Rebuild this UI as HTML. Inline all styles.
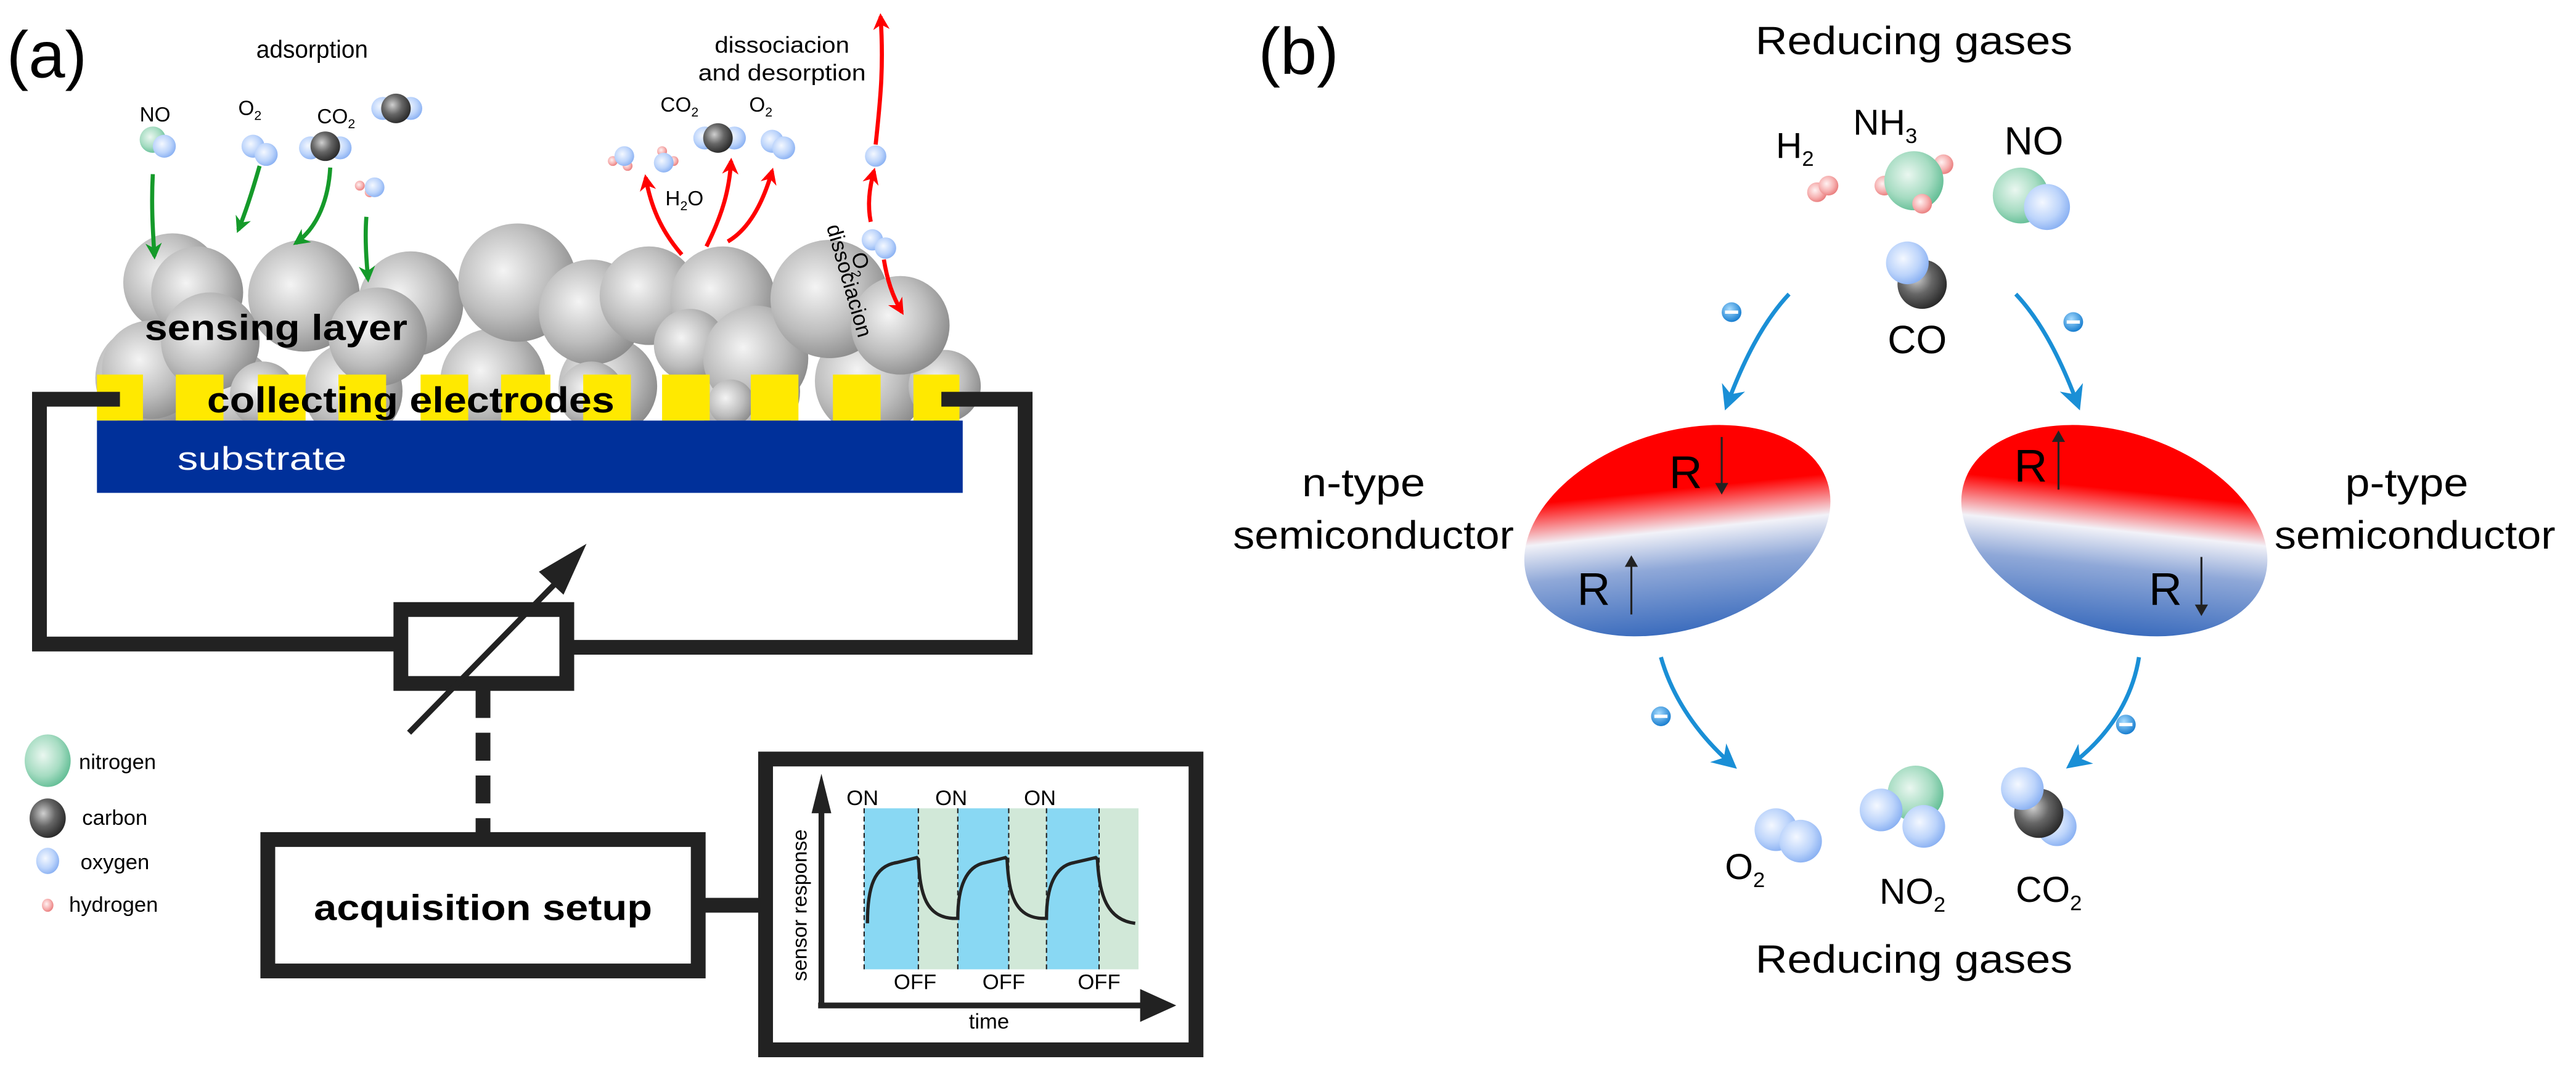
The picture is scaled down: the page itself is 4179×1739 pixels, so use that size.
<!DOCTYPE html>
<html><head><meta charset="utf-8"><style>
html,body{margin:0;padding:0;background:#fff;}
svg{display:block;}
text{font-family:"Liberation Sans",sans-serif;}
</style></head><body>
<svg width="4179" height="1739" viewBox="0 0 1568 652.5" xmlns="http://www.w3.org/2000/svg">
<defs>
<radialGradient id="g" cx="38%" cy="40%" r="65%"><stop offset="0" stop-color="#f4f4f4"/><stop offset="0.6" stop-color="#bdbdbd"/><stop offset="1" stop-color="#8c8c8c"/></radialGradient>
<radialGradient id="c" cx="38%" cy="38%" r="65%"><stop offset="0" stop-color="#d0d0d0"/><stop offset="0.5" stop-color="#666"/><stop offset="1" stop-color="#2a2a2a"/></radialGradient>
<radialGradient id="o" cx="40%" cy="40%" r="65%"><stop offset="0" stop-color="#f4f8ff"/><stop offset="0.6" stop-color="#bcd4fb"/><stop offset="1" stop-color="#86aef2"/></radialGradient>
<radialGradient id="n" cx="40%" cy="40%" r="65%"><stop offset="0" stop-color="#eaf7f0"/><stop offset="0.6" stop-color="#a6dcc2"/><stop offset="1" stop-color="#5fbc93"/></radialGradient>
<radialGradient id="h" cx="40%" cy="40%" r="65%"><stop offset="0" stop-color="#fff2f2"/><stop offset="0.6" stop-color="#f6b0b0"/><stop offset="1" stop-color="#e87878"/></radialGradient>
<radialGradient id="e" cx="40%" cy="35%" r="65%"><stop offset="0" stop-color="#a8dcff"/><stop offset="1" stop-color="#1a7fd0"/></radialGradient>
<linearGradient id="eL" gradientUnits="userSpaceOnUse" x1="1035" y1="262" x2="1009" y2="384"><stop offset="0" stop-color="#ff0000"/><stop offset="0.3" stop-color="#ff0000"/><stop offset="0.5" stop-color="#f2f2f8"/><stop offset="0.68" stop-color="#8fa8d8"/><stop offset="1" stop-color="#3b6cbd"/></linearGradient>
<linearGradient id="eR" gradientUnits="userSpaceOnUse" x1="1273" y1="262" x2="1299" y2="384"><stop offset="0" stop-color="#ff0000"/><stop offset="0.3" stop-color="#ff0000"/><stop offset="0.5" stop-color="#f2f2f8"/><stop offset="0.68" stop-color="#8fa8d8"/><stop offset="1" stop-color="#3b6cbd"/></linearGradient>
<marker id="ag" viewBox="0 0 10 10" refX="8" refY="5" markerWidth="4" markerHeight="5" orient="auto"><path d="M0,0 L10,5 L0,10 L3,5 z" fill="#159a2a"/></marker>
<marker id="ar" viewBox="0 0 10 10" refX="8" refY="5" markerWidth="4" markerHeight="5" orient="auto"><path d="M0,0 L10,5 L0,10 L3,5 z" fill="#f00"/></marker>
<marker id="ab" viewBox="0 0 10 10" refX="8" refY="5" markerWidth="6" markerHeight="6" orient="auto"><path d="M0,0 L10,5 L0,10 L3,5 z" fill="#1a8fd6"/></marker>
</defs>

<!-- PANEL A -->
<text x="4" y="47" font-size="40">(a)</text>
<text x="190" y="35" font-size="15" text-anchor="middle" textLength="68" lengthAdjust="spacingAndGlyphs">adsorption</text>
<text x="476" y="32" font-size="14" text-anchor="middle" textLength="82" lengthAdjust="spacingAndGlyphs">dissociacion</text>
<text x="476" y="49" font-size="14" text-anchor="middle" textLength="102" lengthAdjust="spacingAndGlyphs">and desorption</text>

<!-- spheres -->
<g fill="url(#g)">
<circle cx="90" cy="230" r="32"/><circle cx="140" cy="240" r="28"/><circle cx="215" cy="238" r="30"/><circle cx="300" cy="232" r="32"/><circle cx="370" cy="235" r="30"/><circle cx="455" cy="238" r="32"/><circle cx="530" cy="232" r="34"/><circle cx="575" cy="235" r="22"/>
<circle cx="105" cy="172" r="30"/><circle cx="120" cy="178" r="28"/><circle cx="185" cy="180" r="34"/><circle cx="250" cy="185" r="32"/><circle cx="315" cy="172" r="36"/><circle cx="360" cy="190" r="32"/><circle cx="395" cy="180" r="30"/><circle cx="440" cy="182" r="32"/><circle cx="420" cy="210" r="22"/><circle cx="460" cy="218" r="32"/><circle cx="505" cy="182" r="36"/><circle cx="548" cy="198" r="30"/>
<circle cx="92" cy="225" r="30"/><circle cx="128" cy="208" r="30"/><circle cx="160" cy="240" r="20"/><circle cx="230" cy="205" r="30"/><circle cx="360" cy="240" r="20"/><circle cx="445" cy="245" r="14"/>
</g>
<text x="88" y="207" font-size="22" font-weight="bold" textLength="160" lengthAdjust="spacingAndGlyphs">sensing layer</text>
<!-- electrodes -->
<g fill="#ffe900">
<rect x="59" y="228" width="28" height="28"/><rect x="107" y="228" width="29" height="28"/><rect x="157" y="228" width="29" height="28"/><rect x="206" y="228" width="29" height="28"/><rect x="256" y="228" width="29" height="28"/><rect x="305" y="228" width="30" height="28"/><rect x="355" y="228" width="29" height="28"/><rect x="403" y="228" width="29" height="28"/><rect x="457" y="228" width="29" height="28"/><rect x="507" y="228" width="29" height="28"/><rect x="556" y="228" width="28" height="28"/>
</g>
<text x="126" y="251" font-size="22" font-weight="bold" textLength="248" lengthAdjust="spacingAndGlyphs">collecting electrodes</text>
<rect x="59" y="256" width="527" height="44" fill="#00309a"/>
<text x="108" y="286" font-size="20" fill="#fff" textLength="103" lengthAdjust="spacingAndGlyphs">substrate</text>

<!-- circuit -->
<g fill="none" stroke="#222" stroke-width="9">
<polyline points="73,243 24,243 24,392 244,392"/>
<polyline points="573,243 624,243 624,394 345,394"/>
<rect x="244" y="371" width="101" height="45"/>
<line x1="294" y1="420" x2="294" y2="507" stroke-dasharray="17,9"/>
<rect x="163" y="511" width="262" height="80"/>
<line x1="429" y1="551" x2="462" y2="551"/>
<rect x="466" y="462" width="262" height="177"/>
</g>
<line x1="249" y1="446" x2="345" y2="348" stroke="#222" stroke-width="3.5"/>
<path d="M357,331 L328,348 L343,362 Z" fill="#222"/>
<text x="294" y="560" font-size="22" font-weight="bold" text-anchor="middle" textLength="206" lengthAdjust="spacingAndGlyphs">acquisition setup</text>

<!-- graph -->
<rect x="526" y="492" width="33" height="98" fill="#89d8f3"/><rect x="559" y="492" width="24" height="98" fill="#d1e8d8"/>
<rect x="583" y="492" width="31" height="98" fill="#89d8f3"/><rect x="614" y="492" width="23" height="98" fill="#d1e8d8"/>
<rect x="637" y="492" width="32" height="98" fill="#89d8f3"/><rect x="669" y="492" width="24" height="98" fill="#d1e8d8"/>
<g stroke="#222" stroke-width="0.8" stroke-dasharray="3,2">
<line x1="526" y1="492" x2="526" y2="590"/><line x1="559" y1="492" x2="559" y2="590"/><line x1="583" y1="492" x2="583" y2="590"/><line x1="614" y1="492" x2="614" y2="590"/><line x1="637" y1="492" x2="637" y2="590"/><line x1="669" y1="492" x2="669" y2="590"/>
</g>
<path d="M528,562 C528,540 532,527 546,525 L558,522 L559,523 C560,545 564,558 580,559 L583,559 C583,540 588,527 600,525 L612,522 L613,523 C614,545 618,558 634,559 L637,559 C637,540 642,527 654,525 L667,522 L668,523 C669,545 674,560 691,562" fill="none" stroke="#222" stroke-width="2"/>
<line x1="500" y1="612" x2="500" y2="490" stroke="#222" stroke-width="3.5"/>
<path d="M500,471 L494,495 L506,495 Z" fill="#222"/>
<line x1="498" y1="612" x2="700" y2="612" stroke="#222" stroke-width="3.5"/>
<path d="M716,612 L694,602 L694,622 Z" fill="#222"/>
<g font-size="13" text-anchor="middle"><text x="525" y="490">ON</text><text x="579" y="490">ON</text><text x="633" y="490">ON</text>
<text x="557" y="602">OFF</text><text x="611" y="602">OFF</text><text x="669" y="602">OFF</text>
<text x="602" y="626">time</text>
<text transform="translate(491,551) rotate(-90)" font-size="12.5">sensor response</text></g>

<!-- legend -->
<ellipse cx="29" cy="463" rx="14" ry="16" fill="url(#n)"/><text x="48" y="468" font-size="13">nitrogen</text>
<ellipse cx="29" cy="498" rx="11" ry="12" fill="url(#c)"/><text x="50" y="502" font-size="13">carbon</text>
<ellipse cx="29" cy="524" rx="7" ry="8" fill="url(#o)"/><text x="49" y="529" font-size="13">oxygen</text>
<ellipse cx="29" cy="551" rx="3.5" ry="4" fill="url(#h)"/><text x="42" y="555" font-size="13">hydrogen</text>

<!-- molecules top a -->
<text x="85" y="74" font-size="12.5">NO</text>
<circle cx="93" cy="85" r="8" fill="url(#n)"/><circle cx="100" cy="89" r="7" fill="url(#o)"/>
<text x="145" y="70" font-size="12.5">O<tspan font-size="8" dy="3">2</tspan></text>
<circle cx="154" cy="89" r="7" fill="url(#o)"/><circle cx="162" cy="94" r="7" fill="url(#o)"/>
<text x="193" y="75" font-size="12.5">CO<tspan font-size="8" dy="3">2</tspan></text>
<circle cx="233" cy="66" r="7" fill="url(#o)"/><circle cx="250" cy="66" r="7" fill="url(#o)"/><circle cx="241" cy="66" r="9" fill="url(#c)"/>
<circle cx="189" cy="90" r="7" fill="url(#o)"/><circle cx="207" cy="90" r="7" fill="url(#o)"/><circle cx="198" cy="89" r="9" fill="url(#c)"/>
<circle cx="219" cy="113" r="3" fill="url(#h)"/><circle cx="225" cy="117" r="3" fill="url(#h)"/><circle cx="228" cy="114" r="6" fill="url(#o)"/>
<!-- green arrows -->
<g fill="none" stroke="#159a2a" stroke-width="2.5" marker-end="url(#ag)">
<path d="M93,106 C92,125 93,140 94,156"/>
<path d="M158,101 C154,115 150,128 145,140"/>
<path d="M201,102 C200,120 194,138 180,148"/>
<path d="M223,132 C222,145 223,158 224,170"/>
</g>
<!-- right desorption -->
<text x="405" y="125" font-size="12.5">H<tspan font-size="8" dy="3">2</tspan><tspan dy="-3">O</tspan></text>
<text x="402" y="68" font-size="12.5">CO<tspan font-size="8" dy="3">2</tspan></text>
<text x="456" y="68" font-size="12.5">O<tspan font-size="8" dy="3">2</tspan></text>
<circle cx="373" cy="98" r="3" fill="url(#h)"/><circle cx="382" cy="101" r="3" fill="url(#h)"/><circle cx="380" cy="95" r="6" fill="url(#o)"/>
<circle cx="403" cy="92" r="3" fill="url(#h)"/><circle cx="410" cy="98" r="3" fill="url(#h)"/><circle cx="404" cy="99" r="6" fill="url(#o)"/>
<circle cx="429" cy="84" r="7" fill="url(#o)"/><circle cx="447" cy="84" r="7" fill="url(#o)"/><circle cx="437" cy="84" r="9" fill="url(#c)"/>
<circle cx="470" cy="86" r="7" fill="url(#o)"/><circle cx="477" cy="90" r="7" fill="url(#o)"/>
<circle cx="533" cy="95" r="6.5" fill="url(#o)"/>
<g fill="none" stroke="#f00" stroke-width="2.5" marker-end="url(#ar)">
<path d="M415,155 C402,140 396,125 393,108"/>
<path d="M430,150 C440,130 444,115 445,98"/>
<path d="M443,147 C455,140 464,125 470,104"/>
<path d="M533,88 C536,60 538,40 536,10"/>
<path d="M530,135 C528,125 529,115 532,104"/>
<path d="M538,158 C540,170 543,180 549,190"/>
</g>
<circle cx="531" cy="146" r="6.5" fill="url(#o)"/><circle cx="539" cy="151" r="6.5" fill="url(#o)"/>
<text transform="translate(503,138) rotate(74)" font-size="13">dissociacion</text>
<text transform="translate(518,155) rotate(74)" font-size="13">O<tspan font-size="8" dy="3">2</tspan></text>

<!-- PANEL B -->
<text x="766" y="45" font-size="40">(b)</text>
<g font-size="24" text-anchor="middle">
<text x="1165" y="33" textLength="193" lengthAdjust="spacingAndGlyphs">Reducing gases</text>
<text x="1165" y="592" textLength="193" lengthAdjust="spacingAndGlyphs">Reducing gases</text>
<text x="830" y="302" textLength="75" lengthAdjust="spacingAndGlyphs">n-type</text><text x="836" y="334" textLength="171" lengthAdjust="spacingAndGlyphs">semiconductor</text>
<text x="1465" y="302" textLength="75" lengthAdjust="spacingAndGlyphs">p-type</text><text x="1470" y="334" textLength="171" lengthAdjust="spacingAndGlyphs">semiconductor</text>
<text x="1167" y="215">CO</text>
<text x="1238" y="94">NO</text>
</g>
<text x="1081" y="96" font-size="22">H<tspan font-size="13" dy="5">2</tspan></text>
<text x="1128" y="82" font-size="22">NH<tspan font-size="13" dy="5">3</tspan></text>
<text x="1050" y="535" font-size="22">O<tspan font-size="13" dy="5">2</tspan></text>
<text x="1144" y="550" font-size="22">NO<tspan font-size="13" dy="5">2</tspan></text>
<text x="1227" y="549" font-size="22">CO<tspan font-size="13" dy="5">2</tspan></text>

<circle cx="1106" cy="117" r="6" fill="url(#h)"/><circle cx="1113" cy="113" r="6" fill="url(#h)"/>
<circle cx="1183" cy="100" r="6" fill="url(#h)"/><circle cx="1147" cy="113" r="6" fill="url(#h)"/>
<circle cx="1165" cy="110" r="18" fill="url(#n)"/><circle cx="1170" cy="124" r="6" fill="url(#h)"/>
<circle cx="1230" cy="119" r="17" fill="url(#n)"/><circle cx="1246" cy="126" r="14" fill="url(#o)"/>
<circle cx="1170" cy="173" r="15" fill="url(#c)"/><circle cx="1161" cy="160" r="13" fill="url(#o)"/>

<circle cx="1081" cy="505" r="13" fill="url(#o)"/><circle cx="1096" cy="512" r="13" fill="url(#o)"/>
<circle cx="1166" cy="483" r="17" fill="url(#n)"/><circle cx="1145" cy="493" r="13" fill="url(#o)"/><circle cx="1171" cy="503" r="13" fill="url(#o)"/>
<circle cx="1252" cy="503" r="12" fill="url(#o)"/><circle cx="1241" cy="495" r="15" fill="url(#c)"/><circle cx="1231" cy="480" r="13" fill="url(#o)"/>

<g fill="none" stroke="#1a8fd6" stroke-width="2.5" marker-end="url(#ab)">
<path d="M1089,179 C1073,196 1061,220 1051,247"/>
<path d="M1227,179 C1243,196 1255,220 1265,247"/>
<path d="M1011,400 C1018,425 1034,448 1055,466"/>
<path d="M1302,400 C1298,425 1284,448 1260,466"/>
</g>
<g>
<circle cx="1054" cy="190" r="6" fill="url(#e)"/><rect x="1050" y="189" width="8" height="2" fill="#fff"/>
<circle cx="1262" cy="196" r="6" fill="url(#e)"/><rect x="1258" y="195" width="8" height="2" fill="#fff"/>
<circle cx="1011" cy="436" r="6" fill="url(#e)"/><rect x="1007" y="435" width="8" height="2" fill="#fff"/>
<circle cx="1294" cy="441" r="6" fill="url(#e)"/><rect x="1290" y="440" width="8" height="2" fill="#fff"/>
</g>

<ellipse cx="1021" cy="323" rx="96" ry="60" transform="rotate(-18 1021 323)" fill="url(#eL)"/>
<ellipse cx="1287" cy="323" rx="96" ry="60" transform="rotate(18 1287 323)" fill="url(#eR)"/>
<g font-size="28"><text x="1016" y="297">R</text><text x="960" y="368">R</text><text x="1226" y="293">R</text><text x="1308" y="368">R</text></g>
<g stroke="#222" stroke-width="1.2">
<line x1="1048" y1="266" x2="1048" y2="296"/><line x1="993" y1="374" x2="993" y2="343"/>
<line x1="1253" y1="298" x2="1253" y2="267"/><line x1="1340" y1="339" x2="1340" y2="370"/>
</g>
<g fill="#222">
<path d="M1044,294 L1052,294 L1048,301 Z"/><path d="M989,345 L997,345 L993,338 Z"/>
<path d="M1249,269 L1257,269 L1253,262 Z"/><path d="M1336,368 L1344,368 L1340,375 Z"/>
</g>
</svg>
</body></html>
